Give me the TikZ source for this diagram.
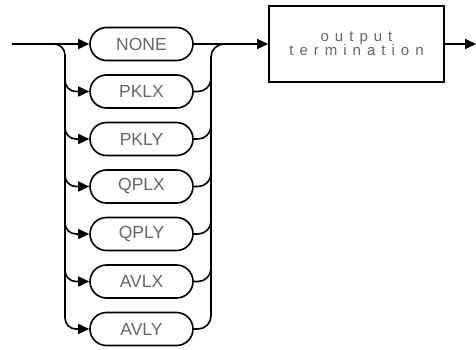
\documentclass[tikz,border=0pt]{standalone}
\usepackage{fontspec}
\setmainfont{Liberation Sans}
\newfontfamily\spacedfont{Liberation Sans}[LetterSpace=40]
\usetikzlibrary{arrows.meta}

\begin{document}
\begin{tikzpicture}[x=1pt,y=-1pt,line width=1.6pt,
  flow/.style={-{Triangle[length=11pt,width=10pt]}},
  pill/.style={draw,rounded corners=16.5pt,minimum width=103pt,minimum height=33pt,
    inner sep=0pt,text=black!60,font=\fontsize{17.5}{20}\selectfont},
  termbox/.style={draw,minimum width=175pt,minimum height=76pt,inner sep=0pt,
    align=center,text=black!60,font=\fontsize{15}{14}\spacedfont}]
\useasboundingbox (0,0) rectangle (476,350);
% options
\foreach \name/\txt [count=\i from 0] in {none/NONE,pklx/PKLX,pkly/PKLY,qplx/QPLX,qply/QPLY,avlx/AVLX,avly/AVLY}
  \node[pill] (\name) at (141.5,{44+47.5*\i}) {\txt};
\node[termbox] (term) at (356.5,44) {output\\termination};
\coordinate (in) at (12,44);
\coordinate (split) at (40,44);
\coordinate (lrail) at (65,44);
\coordinate (rrail) at (211,44);
\coordinate (merge) at (232,44);
\coordinate (out) at (476,44);
% main line
\draw[flow] (in) -- (none.west);
\draw[flow] (none.east) -- (term.west);
\draw[flow] (term.east) -- (out);
% rails
\draw[flow,rounded corners=11pt] (split) -| (lrail |- avly.west) -- (avly.west);
\draw[rounded corners=13pt] (avly.east) -| (rrail) -- (merge);
\foreach \name in {pklx,pkly,qplx,qply,avlx} {
  \draw[flow,rounded corners=11pt] ([yshift=25pt]lrail |- \name.west) |- (\name.west);
  \draw[rounded corners=13pt] (\name.east) -| ([yshift=25pt]rrail |- \name.east);
}
\end{tikzpicture}
\end{document}
